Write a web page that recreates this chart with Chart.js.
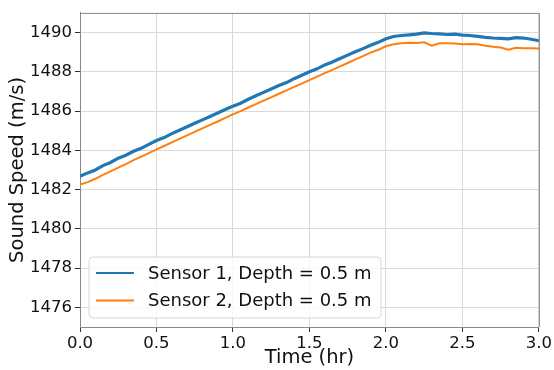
<!DOCTYPE html>
<html>
<head>
<meta charset="utf-8">
<script src="https://cdn.jsdelivr.net/npm/chart.js@4.4.1/dist/chart.umd.min.js"></script>
<style>
  html, body { margin: 0; padding: 0; background: #fff; }
  #wrap { width: 554px; height: 370px; position: relative; }
</style>
</head>
<body>
<div id="wrap"><canvas id="chart"></canvas></div>
<script>
// time in hours, one reading every 0.05 hr
const hours = [
  0.00, 0.05, 0.10, 0.15, 0.20, 0.25, 0.30, 0.35, 0.40, 0.45,
  0.50, 0.55, 0.60, 0.65, 0.70, 0.75, 0.80, 0.85, 0.90, 0.95,
  1.00, 1.05, 1.10, 1.15, 1.20, 1.25, 1.30, 1.35, 1.40, 1.45,
  1.50, 1.55, 1.60, 1.65, 1.70, 1.75, 1.80, 1.85, 1.90, 1.95,
  2.00, 2.05, 2.10, 2.15, 2.20, 2.25, 2.30, 2.35, 2.40, 2.45,
  2.50, 2.55, 2.60, 2.65, 2.70, 2.75, 2.80, 2.85, 2.90, 2.95,
  3.00
];
const sensor1 = [
  1482.68, 1482.85, 1483.00, 1483.22, 1483.38, 1483.60, 1483.75, 1483.95, 1484.10, 1484.30,
  1484.50, 1484.65, 1484.85, 1485.02, 1485.20, 1485.38, 1485.55, 1485.72, 1485.90, 1486.08,
  1486.25, 1486.40, 1486.60, 1486.78, 1486.95, 1487.12, 1487.30, 1487.45, 1487.65, 1487.82,
  1488.00, 1488.15, 1488.35, 1488.50, 1488.68, 1488.85, 1489.02, 1489.18, 1489.35, 1489.50,
  1489.68, 1489.80, 1489.85, 1489.88, 1489.92, 1489.98, 1489.95, 1489.93, 1489.90, 1489.92,
  1489.87, 1489.85, 1489.80, 1489.75, 1489.72, 1489.70, 1489.68, 1489.74, 1489.72, 1489.66,
  1489.58
];
const sensor2 = [
  1482.25, 1482.38, 1482.55, 1482.75, 1482.93, 1483.12, 1483.30, 1483.50, 1483.68, 1483.86,
  1484.05, 1484.22, 1484.40, 1484.58, 1484.76, 1484.94, 1485.12, 1485.30, 1485.47, 1485.65,
  1485.83, 1486.00, 1486.18, 1486.35, 1486.53, 1486.70, 1486.88, 1487.05, 1487.23, 1487.40,
  1487.58, 1487.75, 1487.93, 1488.10, 1488.28, 1488.45, 1488.63, 1488.80, 1488.98, 1489.12,
  1489.30, 1489.40, 1489.45, 1489.48, 1489.47, 1489.50, 1489.33, 1489.45, 1489.46, 1489.44,
  1489.40, 1489.42, 1489.40, 1489.33, 1489.27, 1489.24, 1489.12, 1489.22, 1489.20, 1489.20,
  1489.19
];
const seriesNames = ['Sensor 1, Depth = 0.5 m', 'Sensor 2, Depth = 0.5 m'];
const xTicks = [0, 0.5, 1.0, 1.5, 2.0, 2.5, 3.0];
const yTicks = [1476, 1478, 1480, 1482, 1484, 1486, 1488, 1490];

const FONT = 'DejaVu Sans';
const TEXT = '#111';
const colors = ['#1f77b4', '#ff7f0e'];

function toPoints(vals) {
  return vals.map((v, i) => ({ x: hours[i], y: v }));
}

// frame round the plot plus a legend box in its lower left corner, matplotlib style
const innerLegend = {
  id: 'innerLegend',
  afterDraw(chart) {
    const ctx = chart.ctx;
    const a = chart.chartArea;
    ctx.save();
    ctx.strokeStyle = '#888';
    ctx.lineWidth = 1;
    ctx.beginPath();
    ctx.moveTo(a.left, a.top + 0.5);
    ctx.lineTo(a.right + 0.5, a.top + 0.5);
    ctx.lineTo(a.right + 0.5, a.bottom);
    ctx.stroke();

    const x0 = a.left + 9, y0 = a.bottom - 70, w = 292, h = 61;
    ctx.beginPath();
    ctx.roundRect(x0, y0, w, h, 4);
    ctx.fillStyle = 'rgba(255,255,255,0.8)';
    ctx.fill();
    ctx.strokeStyle = '#d6d6d6';
    ctx.stroke();
    ctx.font = '18px "' + FONT + '"';
    ctx.textBaseline = 'middle';
    ctx.fillStyle = TEXT;
    seriesNames.forEach((name, i) => {
      const yy = y0 + 16 + i * 27.5;
      ctx.beginPath();
      ctx.moveTo(x0 + 7, yy);
      ctx.lineTo(x0 + 45, yy);
      ctx.strokeStyle = colors[i];
      ctx.lineWidth = 2;
      ctx.stroke();
      ctx.fillText(name, x0 + 59, yy + 1);
    });
    ctx.restore();
  }
};

new Chart(document.getElementById('chart'), {
  type: 'line',
  data: {
    datasets: [
      { label: seriesNames[0], data: toPoints(sensor1), borderColor: colors[0], borderWidth: 3.2, pointRadius: 0, tension: 0 },
      { label: seriesNames[1], data: toPoints(sensor2), borderColor: colors[1], borderWidth: 2, pointRadius: 0, tension: 0 }
    ]
  },
  options: {
    responsive: true,
    maintainAspectRatio: false,
    animation: false,
    layout: { padding: { top: 7, right: 14, left: 6, bottom: 0 } },
    plugins: { legend: { display: false }, tooltip: { enabled: false } },
    scales: {
      x: {
        type: 'linear',
        min: 0, max: 3,
        afterBuildTicks: s => { s.ticks = xTicks.map(v => ({ value: v })); },
        afterFit: s => { s.height = 43; },
        ticks: {
          callback: v => v.toFixed(1),
          color: TEXT, font: { family: FONT, size: 16.5 }, padding: 2, maxRotation: 0
        },
        grid: { color: '#d9d9d9', tickColor: '#333', tickLength: 5 },
        border: { color: '#888', width: 1 },
        title: { display: true, text: 'Time (hr)', color: TEXT, font: { family: FONT, size: 19.5 }, padding: { top: 0, bottom: 0 } }
      },
      y: {
        min: 1475, max: 1491,
        afterBuildTicks: s => { s.ticks = yTicks.map(v => ({ value: v })); },
        afterFit: s => { s.width = 74; },
        ticks: {
          callback: v => String(v),
          color: TEXT, font: { family: FONT, size: 16.5 }, padding: 3
        },
        grid: { color: '#d9d9d9', tickColor: '#333', tickLength: 5 },
        border: { color: '#888', width: 1 },
        title: { display: true, text: 'Sound Speed (m/s)', color: TEXT, font: { family: FONT, size: 19.5 }, padding: { top: 0, bottom: 2 } }
      }
    }
  },
  plugins: [innerLegend]
});
</script>
</body>
</html>
